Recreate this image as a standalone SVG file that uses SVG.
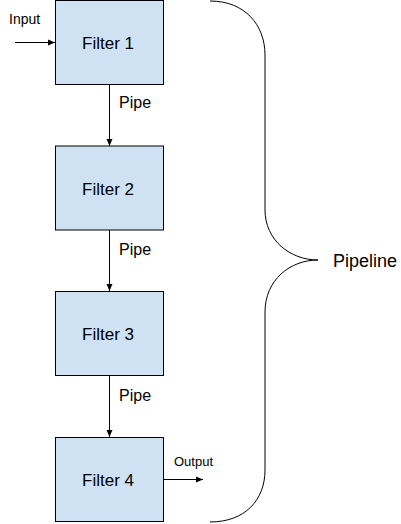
<svg xmlns="http://www.w3.org/2000/svg" width="401" height="524" viewBox="0 0 401 524">
<style>
.box{fill:#cfe2f3;stroke:#000;stroke-width:1}
.t{font-family:"Liberation Sans",Arial,sans-serif;fill:#000}
.ft{font-size:17px;text-anchor:middle}
.pl{font-size:16px}
.c{stroke:#000;stroke-width:1;fill:none}
</style>
<defs>
<marker id="ah" markerWidth="8" markerHeight="8" refX="7" refY="4" orient="auto" markerUnits="userSpaceOnUse">
<path d="M0,1 L7,4 L0,7 Z" fill="#000"/>
</marker>
</defs>
<rect width="401" height="524" fill="#fff"/>
<g id="connectors">
<line class="c" x1="15" y1="42.5" x2="55" y2="42.5" marker-end="url(#ah)"/>
<line class="c" x1="109.5" y1="85" x2="109.5" y2="146" marker-end="url(#ah)"/>
<line class="c" x1="109.5" y1="230" x2="109.5" y2="291" marker-end="url(#ah)"/>
<line class="c" x1="109.5" y1="376" x2="109.5" y2="437" marker-end="url(#ah)"/>
<line class="c" x1="163" y1="479.5" x2="203" y2="479.5" marker-end="url(#ah)"/>
<text class="t" font-size="14" x="9" y="24">Input</text>
<text class="t pl" x="119" y="108">Pipe</text>
<text class="t pl" x="119" y="255">Pipe</text>
<text class="t pl" x="119" y="401">Pipe</text>
<text class="t" font-size="13" x="174" y="466">Output</text>
</g>
<g id="filter1"><rect class="box" x="55.5" y="0.5" width="108" height="84"/><text class="t ft" x="108" y="49">Filter 1</text></g>
<g id="filter2"><rect class="box" x="55.5" y="146" width="108" height="84"/><text class="t ft" x="108" y="195">Filter 2</text></g>
<g id="filter3"><rect class="box" x="55.5" y="291.5" width="108" height="84"/><text class="t ft" x="108" y="340">Filter 3</text></g>
<g id="filter4"><rect class="box" x="55.5" y="437.5" width="108" height="84"/><text class="t ft" x="108" y="486">Filter 4</text></g>
<g id="pipeline">
<path class="c" d="M210,1 C245,1 265,25 265,55 L265,210 C265,240 290,260 318,260 C290,260 265,280 265,312 L265,470 C265,500 245,522 210,522"/>
<text class="t" font-size="18" x="333" y="267">Pipeline</text>
</g>
</svg>
